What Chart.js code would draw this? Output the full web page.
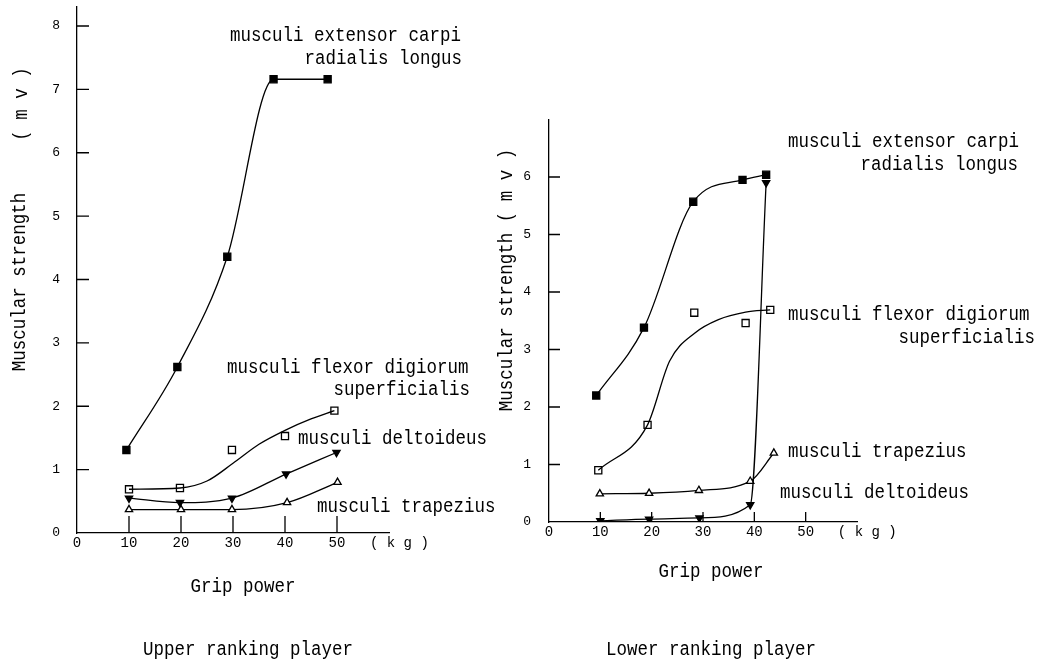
<!DOCTYPE html>
<html>
<head>
<meta charset="utf-8">
<script src="https://cdn.jsdelivr.net/npm/chart.js@4.4.0/dist/chart.umd.min.js"></script>
<style>
  body { margin: 0; background: #fff; width: 1041px; height: 663px; position: relative; overflow: hidden; }
  canvas { position: absolute; top: 0; }
  #upper { left: 0; }
  #lower { left: 495px; }
</style>
</head>
<body>
<canvas id="upper" width="520" height="663"></canvas>
<canvas id="lower" width="546" height="663"></canvas>
<script>
// tick labels
const xTicks = [0, 10, 20, 30, 40, 50];
const upperYTicks = [0, 1, 2, 3, 4, 5, 6, 7, 8];
const lowerYTicks = [0, 1, 2, 3, 4, 5, 6];

// upper ranking player (grip power kg -> mv)
const upperExtensorX = [9.5, 19.3, 28.9, 37.8, 48.2];
const upperExtensorY = [1.31, 2.62, 4.36, 7.16, 7.16];
const upperFlexorX = [10, 19.8, 29.8, 40, 49.5];
const upperFlexorY = [0.69, 0.71, 1.31, 1.53, 1.93];
const upperFlexorCurveX = [10, 19.8, 25, 30, 35, 40, 45, 49.5];
const upperFlexorCurveY = [0.69, 0.71, 0.82, 1.1, 1.4, 1.62, 1.8, 1.93];
const upperDeltoidX = [10, 19.8, 29.8, 40.2, 49.9];
const upperDeltoidY = [0.55, 0.48, 0.55, 0.93, 1.27];
const upperTrapeziusX = [10, 20, 29.8, 40.4, 50.1];
const upperTrapeziusY = [0.37, 0.37, 0.37, 0.48, 0.8];

// lower ranking player
const lowerExtensorX = [9.2, 18.5, 28.1, 37.7, 42.3];
const lowerExtensorY = [2.2, 3.38, 5.57, 5.95, 6.04];
const lowerFlexorX = [9.6, 19.2, 28.3, 38.3, 43.1];
const lowerFlexorY = [0.9, 1.69, 3.64, 3.46, 3.69];
const lowerFlexorCurveX = [9.6, 19.2, 23.5, 28.3, 33, 38.3, 43.1];
const lowerFlexorCurveY = [0.9, 1.69, 2.8, 3.28, 3.52, 3.65, 3.69];
const lowerDeltoidX = [10, 19.5, 29.3, 39.2, 42.3];
const lowerDeltoidY = [0.02, 0.05, 0.07, 0.3, 5.9];
const lowerTrapeziusX = [9.9, 19.5, 29.2, 39.2, 43.8];
const lowerTrapeziusY = [0.49, 0.5, 0.55, 0.71, 1.2];

const FONT = '"Liberation Mono", "DejaVu Sans Mono", monospace';

function pts(xs, ys) {
  return xs.map((x, i) => ({ x: x, y: ys[i] }));
}

// inner tick marks, (kg) unit and the free text
const decorations = {
  id: 'decorations',
  afterDraw(chart, args, opts) {
    const ctx = chart.ctx;
    const x = chart.scales.x, y = chart.scales.y;
    ctx.save();
    ctx.strokeStyle = '#000';
    ctx.lineWidth = 1.3;
    ctx.beginPath();
    x.ticks.forEach(t => {
      if (t.value === 0) return;
      const px = x.getPixelForValue(t.value);
      ctx.moveTo(px, x.top);
      ctx.lineTo(px, x.top - opts.xTick);
    });
    y.ticks.forEach(t => {
      if (t.value === 0) return;
      const py = y.getPixelForValue(t.value);
      ctx.moveTo(y.right, py);
      ctx.lineTo(y.right + opts.yTick, py);
    });
    ctx.stroke();

    ctx.fillStyle = '#000';
    ctx.textBaseline = 'middle';
    ctx.textAlign = 'center';
    ctx.font = '14px ' + FONT;
    ctx.fillText('( k g )', x.getPixelForValue(62), x.top + 10);

    ctx.font = '17.5px ' + FONT;
    opts.labels.forEach(l => {
      ctx.save();
      ctx.translate(l.x, l.y);
      if (l.rot) ctx.rotate(-Math.PI / 2);
      ctx.scale(1, 1.12);
      ctx.textAlign = l.a || 'left';
      ctx.fillText(l.t, 0, 0);
      ctx.restore();
    });
    ctx.restore();
  }
};

function lineSet(data, style) {
  return Object.assign({
    data: data,
    borderColor: '#000',
    borderWidth: 1.3,
    cubicInterpolationMode: 'monotone',
    pointBorderColor: '#000',
    pointBorderWidth: 1.3,
    pointRadius: 4.2,
    pointHoverRadius: 4.2
  }, style);
}

function makeChart(id, sets, yTicks, yMax, g, labels) {
  new Chart(document.getElementById(id), {
    type: 'line',
    data: { datasets: sets },
    options: {
      responsive: false,
      animation: false,
      layout: { padding: { left: 0, top: g.top, right: g.right, bottom: 0 } },
      plugins: {
        legend: { display: false },
        tooltip: { enabled: false },
        decorations: { xTick: g.xTick, yTick: g.yTick, labels: labels }
      },
      scales: {
        x: {
          type: 'linear', min: 0, max: 60,
          afterBuildTicks: s => { s.ticks = xTicks.map(v => ({ value: v })); },
          afterFit: s => { s.height = g.xHeight; s.paddingLeft = 0; s.paddingRight = 0; },
          grid: { display: false, drawTicks: false, tickLength: 0 },
          border: { display: true, color: '#000', width: 1.3 },
          ticks: { color: '#000', font: { family: FONT, size: 14 }, padding: 2, maxRotation: 0, autoSkip: false }
        },
        y: {
          type: 'linear', min: 0, max: yMax,
          afterBuildTicks: s => { s.ticks = yTicks.map(v => ({ value: v })); },
          afterFit: s => { s.width = g.yWidth; s.paddingTop = 0; s.paddingBottom = 0; },
          grid: { display: false, drawTicks: false, tickLength: 0 },
          border: { display: true, color: '#000', width: 1.3 },
          ticks: { color: '#000', font: { family: FONT, size: 13 }, padding: g.yPad, autoSkip: false }
        }
      }
    },
    plugins: [decorations]
  });
}

function seriesSets(ext, flex, flexCurve, delt, trap) {
  return [
    lineSet(ext, { pointStyle: 'rect', pointRadius: 5, pointBackgroundColor: '#000' }),
    lineSet(flexCurve, { pointRadius: 0 }),
    lineSet(flex, { showLine: false, pointStyle: 'rect', pointRadius: 5, pointBackgroundColor: '#fff' }),
    lineSet(delt, { pointStyle: 'triangle', rotation: 180, pointBackgroundColor: '#000' }),
    lineSet(trap, { pointStyle: 'triangle', pointBackgroundColor: '#fff' })
  ];
}

makeChart('upper',
  seriesSets(pts(upperExtensorX, upperExtensorY), pts(upperFlexorX, upperFlexorY),
    pts(upperFlexorCurveX, upperFlexorCurveY), pts(upperDeltoidX, upperDeltoidY),
    pts(upperTrapeziusX, upperTrapeziusY)),
  upperYTicks, 8.3,
  { top: 7, right: 131, xHeight: 130, yWidth: 77, xTick: 17, yTick: 12, yPad: 17 },
  [
    { t: 'musculi extensor carpi', x: 461, y: 36, a: 'right' },
    { t: 'radialis longus', x: 462, y: 59, a: 'right' },
    { t: 'musculi flexor digiorum', x: 227, y: 368 },
    { t: 'superficialis', x: 470, y: 390, a: 'right' },
    { t: 'musculi deltoideus', x: 298, y: 439 },
    { t: 'musculi trapezius', x: 317, y: 507 },
    { t: 'Muscular strength', x: 20, y: 282, a: 'center', rot: true },
    { t: '( m v )', x: 22, y: 104, a: 'center', rot: true },
    { t: 'Grip power', x: 243, y: 587, a: 'center' },
    { t: 'Upper ranking player', x: 248, y: 650, a: 'center' }
  ]);

makeChart('lower',
  seriesSets(pts(lowerExtensorX, lowerExtensorY), pts(lowerFlexorX, lowerFlexorY),
    pts(lowerFlexorCurveX, lowerFlexorCurveY), pts(lowerDeltoidX, lowerDeltoidY),
    pts(lowerTrapeziusX, lowerTrapeziusY)),
  lowerYTicks, 7.0,
  { top: 119.5, right: 184, xHeight: 141, yWidth: 54, xTick: 10, yTick: 11, yPad: 18 },
  [
    { t: 'musculi extensor carpi', x: 293, y: 142 },
    { t: 'radialis longus', x: 523, y: 165, a: 'right' },
    { t: 'musculi flexor digiorum', x: 293, y: 315 },
    { t: 'superficialis', x: 540, y: 338, a: 'right' },
    { t: 'musculi trapezius', x: 293, y: 452 },
    { t: 'musculi deltoideus', x: 285, y: 493 },
    { t: 'Muscular strength ( m v )', x: 12, y: 280, a: 'center', rot: true },
    { t: 'Grip power', x: 216, y: 572, a: 'center' },
    { t: 'Lower ranking player', x: 216, y: 650, a: 'center' }
  ]);
</script>
</body>
</html>
